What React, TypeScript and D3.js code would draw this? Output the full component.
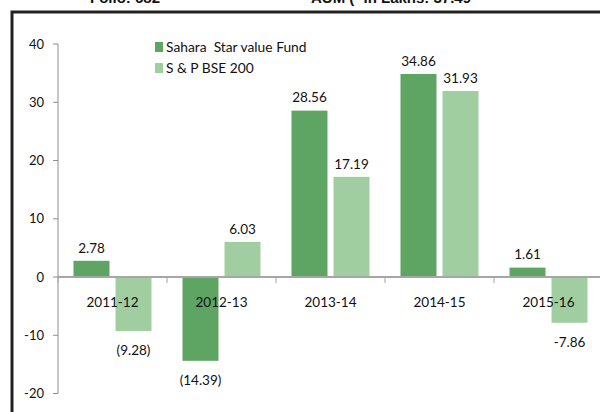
import React from "react";
import * as d3 from "d3";

const categories = ["2011-12", "2012-13", "2013-14", "2014-15", "2015-16"];
const seriesNames = ["Sahara  Star value Fund", "S & P BSE 200"];
const fundValues = [2.78, -14.39, 28.56, 34.86, 1.61];
const indexValues = [-9.28, 6.03, 17.19, 31.93, -7.86];
const fundLabels = ["2.78", "(14.39)", "28.56", "34.86", "1.61"];
const indexLabels = ["(9.28)", "6.03", "17.19", "31.93", "-7.86"];
const yTicks = [-20, -10, 0, 10, 20, 30, 40];
const headerLeft = "Folio: 682";
const headerRight = "AUM (` in Lakhs: 37.49";

const colors = ["#5ea463", "#a0cea1"];
const FONT = "Lato, 'Open Sans', sans-serif";

export default function App() {
  const W = 600, H = 412;
  const axisX = 58;
  const y = d3.scaleLinear().domain([-20, 40]).range([393.5, 44]);
  const x0 = d3.scaleBand<string>().domain(categories).range([axisX, axisX + 109 * 5]).padding(0);
  const x1 = d3.scaleBand<number>().domain([0, 1]).range([0, x0.bandwidth()]).paddingInner(0.143).paddingOuter(0.369);
  const series = [
    { values: fundValues, labels: fundLabels },
    { values: indexValues, labels: indexLabels },
  ];
  const y0 = y(0);
  const boundaries = categories.map((c) => x0(c)!).concat([x0.range()[1]]);

  return (
    <svg width={W} height={H} style={{ position: "absolute", left: 0, top: 0, background: "#fff" }} fontFamily={FONT}>
      <rect x={0} y={0} width={W} height={H} fill="#fff" />
      {/* header, mostly clipped as in the reference */}
      <text x={160} y={2.5} textAnchor="end" fontFamily="'Liberation Sans', Arial, sans-serif" fontWeight="bold" fontSize={15} fill="#111">{headerLeft}</text>
      <text x={311} y={2.5} fontFamily="'Liberation Sans', Arial, sans-serif" fontWeight="bold" fontSize={15} fill="#111">{headerRight}</text>
      {/* frame */}
      <path d={`M12,${H + 2} V12 H${W + 2}`} fill="none" stroke="#222" strokeWidth={3} />
      {/* y axis */}
      <line x1={axisX} x2={axisX} y1={y(40)} y2={y(-20)} stroke="#8c8c8c" strokeWidth={1} />
      {yTicks.map((t) => (
        <g key={t}>
          <line x1={axisX - 5} x2={axisX} y1={y(t)} y2={y(t)} stroke="#8c8c8c" strokeWidth={1} />
          <text x={44} y={y(t)} dy="0.35em" textAnchor="end" fontSize={13} fill="#111">{t}</text>
        </g>
      ))}
      {/* bars */}
      {series.map((s, si) =>
        s.values.map((v, i) => {
          const bx = x0(categories[i])! + x1(si)!;
          const top = y(Math.max(0, v));
          const h = Math.abs(y(v) - y0);
          return <rect key={`${si}-${i}`} x={bx} y={top} width={x1.bandwidth()} height={h} fill={colors[si]} />;
        })
      )}
      {/* x axis */}
      <line x1={axisX} x2={W + 5} y1={y0} y2={y0} stroke="#a6a6a6" strokeWidth={2} />
      {boundaries.map((b, i) => (
        <line key={i} x1={b} x2={b} y1={y0} y2={y0 + 6} stroke="#a6a6a6" strokeWidth={1} />
      ))}
      {/* category labels */}
      {categories.map((c) => (
        <text key={c} x={x0(c)! + x0.bandwidth() / 2} y={302} dy="0.35em" textAnchor="middle" fontSize={13.5} fill="#111">{c}</text>
      ))}
      {/* value labels */}
      {series.map((s, si) =>
        s.values.map((v, i) => {
          const cx = x0(categories[i])! + x1(si)! + x1.bandwidth() / 2;
          const ly = v >= 0 ? y(v) - 13 : y(v) + 19;
          return (
            <text key={`l${si}-${i}`} x={cx} y={ly} dy="0.35em" textAnchor="middle" fontSize={13.5} fill="#111">{s.labels[i]}</text>
          );
        })
      )}
      {/* legend */}
      {seriesNames.map((n, i) => (
        <g key={n} transform={`translate(155, ${42 + i * 21})`}>
          <rect x={0} y={0} width={8} height={10} fill={colors[i]} />
          <text x={11} y={5} dy="0.35em" fontSize={13.8} fill="#111" style={{ whiteSpace: "pre" }}>{n}</text>
        </g>
      ))}
    </svg>
  );
}
